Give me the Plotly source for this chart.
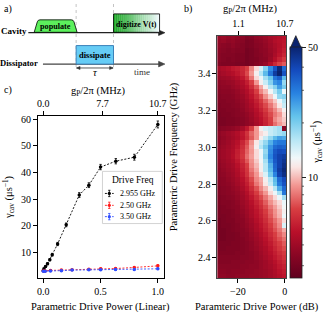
import math
import plotly.graph_objects as go

W, H = 330, 312
FONT = "Liberation Serif"

# ---------------- data: panel (c) ----------------
power_black = [0.0, 0.006, 0.02, 0.037, 0.057, 0.078, 0.125, 0.2, 0.314, 0.398, 0.5, 0.633, 0.795, 1.0]
gamma_black = [3.2, 3.8, 4.7, 5.7, 7.2, 9.1, 13.1, 20.3, 31.5, 35.2, 42.0, 44.2, 45.7, 58.0]
err_black = [0.3, 0.3, 0.3, 0.4, 0.4, 0.5, 0.6, 0.7, 0.9, 0.9, 1.0, 1.0, 1.1, 1.3]

power_rb = [0.0, 0.016, 0.063, 0.158, 0.251, 0.398, 0.501, 0.631, 0.794, 1.0]
gamma_red = [3.0, 3.0, 3.2, 3.3, 3.4, 3.6, 3.8, 3.9, 4.3, 4.9]
err_red = [0.2, 0.2, 0.2, 0.2, 0.2, 0.2, 0.3, 0.3, 0.3, 0.4]
gamma_blue = [2.9, 2.9, 3.0, 3.1, 3.3, 3.4, 3.4, 3.5, 3.5, 3.8]
err_blue = [0.2, 0.2, 0.2, 0.2, 0.2, 0.2, 0.2, 0.3, 0.3, 0.3]

legend_names = ["2.955 GHz", "2.50 GHz", "3.50 GHz"]
series_colors = ["#000000", "#ff1a1a", "#2f4dff"]

c_bottom_ticks = [0.0, 0.5, 1.0]
c_left_ticks = [10, 20, 30, 40, 50, 60]
c_top_gp_ticks = [0.0, 7.7, 10.7]      # g_P/2pi (MHz), g ~ sqrt(P)
gp_max = 10.7

# ---------------- data: panel (b) heat map ----------------
power_db = [-28, -26, -24, -22, -20, -18, -16, -14, -12, -10, -8, -6, -4, -2, 0]
freq_ghz = [3.600, 3.575, 3.550, 3.525, 3.500, 3.475, 3.450, 3.425, 3.400, 3.375,
            3.350, 3.325, 3.300, 3.275, 3.250, 3.225, 3.200, 3.175, 3.150, 3.125,
            3.100, 3.075, 3.050, 3.025, 3.000, 2.975, 2.950, 2.925, 2.900, 2.875,
            2.850, 2.825, 2.800, 2.775, 2.750, 2.725, 2.700, 2.675, 2.650, 2.625,
            2.600, 2.575, 2.550, 2.525, 2.500, 2.475, 2.450, 2.425, 2.400, 2.375,
            2.350, 2.325, 2.300]
gamma_map = [
    [3.8, 3.9, 3.7, 3.8, 3.6, 3.5, 3.2, 3.3, 3.6, 3.7, 3.9, 4.2, 4.4, 4.6, 4.8],
    [3.7, 3.8, 3.6, 3.7, 3.5, 3.4, 3.1, 3.2, 3.5, 3.6, 3.8, 4.1, 4.5, 4.7, 4.9],
    [3.6, 3.5, 3.4, 3.6, 3.4, 3.3, 3.1, 3.2, 3.4, 3.5, 3.7, 4.0, 4.3, 4.6, 5.0],
    [3.5, 3.4, 3.3, 3.4, 3.3, 3.3, 3.0, 3.1, 3.3, 3.5, 3.6, 3.9, 4.2, 4.7, 5.2],
    [3.4, 3.3, 3.3, 3.3, 3.2, 3.2, 3.0, 3.1, 3.3, 3.4, 3.6, 3.8, 4.3, 4.9, 5.5],
    [3.4, 3.3, 3.2, 3.3, 3.2, 3.2, 3.0, 3.1, 3.2, 3.4, 3.5, 3.9, 4.6, 5.4, 6.2],
    [3.3, 3.2, 3.2, 3.2, 3.1, 3.1, 3.0, 3.1, 3.3, 3.5, 3.8, 4.6, 5.6, 6.6, 7.2],
    [4.2, 4.4, 4.6, 5.0, 5.2, 5.6, 6.5, 8.5, 11, 14, 19, 27, 36, 48, 32],
    [4.0, 4.2, 4.4, 4.6, 5.0, 5.5, 6.8, 9.0, 12, 16, 22, 30, 42, 58, 36],
    [3.8, 3.9, 4.0, 4.2, 4.5, 5.0, 6.0, 8.0, 11, 13, 17, 21, 30, 34, 22],
    [3.6, 3.7, 3.8, 3.9, 4.2, 4.5, 5.2, 6.5, 9.0, 12, 15, 19, 26, 28, 18],
    [3.5, 3.6, 3.6, 3.8, 4.0, 4.3, 4.8, 5.8, 7.2, 9.5, 12, 16, 19, 25, 20],
    [3.4, 3.5, 3.5, 3.6, 3.8, 4.1, 4.5, 5.2, 6.5, 8.5, 10, 12.5, 16, 20, 13],
    [3.3, 3.4, 3.4, 3.5, 3.7, 3.9, 4.3, 4.9, 5.8, 7.0, 8.8, 10.5, 13, 18, 19],
    [3.3, 3.3, 3.4, 3.4, 3.6, 3.8, 4.1, 4.6, 5.3, 6.3, 7.5, 9.0, 10.5, 13, 16],
    [3.2, 3.3, 3.3, 3.4, 3.5, 3.7, 4.0, 4.4, 5.0, 5.8, 6.8, 8.0, 9.5, 11.5, 15],
    [3.2, 3.2, 3.3, 3.3, 3.4, 3.6, 3.9, 4.2, 4.7, 5.4, 6.3, 7.3, 8.5, 10, 12],
    [3.1, 3.2, 3.2, 3.3, 3.4, 3.5, 3.7, 4.0, 4.5, 5.0, 5.8, 6.8, 8.0, 9.0, 11],
    [3.1, 3.1, 3.2, 3.2, 3.3, 3.4, 3.6, 3.9, 4.3, 4.8, 5.5, 6.5, 8.5, 9.5, 10.5],
    [3.1, 3.1, 3.2, 3.2, 3.3, 3.4, 3.6, 3.8, 4.2, 4.7, 5.4, 6.4, 7.8, 9.0, 10],
    [3.3, 3.4, 3.5, 3.6, 3.8, 4.2, 5.0, 6.5, 9.0, 12, 14, 15, 16, 17, 3.5],
    [3.6, 3.8, 4.0, 4.2, 4.5, 5.0, 6.0, 7.5, 9.0, 11, 12, 15, 16, 17, 18],
    [3.5, 3.7, 3.9, 4.1, 4.4, 4.9, 5.8, 7.2, 9.0, 12, 15, 18, 22, 25, 24],
    [3.6, 3.8, 4.0, 4.3, 4.7, 5.5, 6.8, 8.8, 11.5, 15, 18, 23, 28, 30, 30],
    [3.7, 3.9, 4.1, 4.4, 4.9, 5.8, 7.2, 9.2, 12, 16, 20, 26, 32, 34, 33],
    [3.8, 4.0, 4.2, 4.5, 5.2, 6.0, 7.5, 9.0, 11, 13, 18, 27, 35, 38, 37],
    [3.8, 4.0, 4.2, 4.6, 5.3, 6.2, 7.8, 9.2, 11, 13, 19, 28, 36, 40, 42],
    [3.7, 3.9, 4.1, 4.4, 5.0, 5.8, 7.2, 8.8, 10.5, 12.5, 17, 26, 35, 40, 44],
    [3.6, 3.8, 4.0, 4.2, 4.7, 5.4, 6.5, 8.5, 10, 12, 16, 23, 33, 40, 46],
    [3.5, 3.7, 3.9, 4.1, 4.5, 5.2, 6.2, 8.0, 9.5, 12, 16, 22, 32, 42, 48],
    [3.5, 3.6, 3.8, 4.0, 4.4, 5.0, 6.0, 7.5, 9.0, 11, 14, 20, 28, 40, 46],
    [3.4, 3.5, 3.7, 3.9, 4.2, 4.7, 5.5, 6.8, 8.5, 9.5, 12, 16, 22, 32, 38],
    [3.4, 3.5, 3.6, 3.8, 4.1, 4.5, 5.2, 6.4, 8.0, 9.2, 11.5, 15, 21, 30, 36],
    [3.3, 3.4, 3.5, 3.7, 3.9, 4.3, 4.9, 5.8, 7.0, 8.5, 10, 12, 16, 24, 32],
    [3.3, 3.4, 3.5, 3.6, 3.8, 4.1, 4.6, 5.4, 6.4, 7.6, 9.0, 11, 13, 17, 30],
    [3.2, 3.3, 3.4, 3.5, 3.7, 4.0, 4.4, 5.0, 5.8, 6.8, 8.0, 9.5, 11, 13, 17],
    [3.2, 3.3, 3.3, 3.4, 3.6, 3.9, 4.2, 4.7, 5.4, 6.2, 7.3, 8.8, 10, 11, 13],
    [3.1, 3.2, 3.3, 3.4, 3.5, 3.8, 4.1, 4.5, 5.1, 5.8, 6.8, 8.0, 9.2, 10.5, 12.5],
    [3.1, 3.2, 3.2, 3.3, 3.5, 3.7, 4.0, 4.4, 4.9, 5.5, 6.4, 7.5, 8.8, 10, 12],
    [3.1, 3.1, 3.2, 3.3, 3.4, 3.6, 3.9, 4.3, 4.8, 5.3, 6.1, 7.2, 8.6, 9.8, 13],
    [3.0, 3.1, 3.2, 3.2, 3.4, 3.5, 3.8, 4.1, 4.6, 5.1, 5.8, 6.8, 7.8, 9.0, 11],
    [3.0, 3.1, 3.1, 3.2, 3.3, 3.5, 3.7, 4.0, 4.4, 4.9, 5.5, 6.4, 7.4, 8.6, 14],
    [3.0, 3.0, 3.1, 3.2, 3.3, 3.4, 3.6, 3.9, 4.3, 4.7, 5.3, 6.0, 7.0, 8.0, 9.5],
    [3.0, 3.0, 3.1, 3.1, 3.2, 3.4, 3.5, 3.8, 4.1, 4.5, 5.0, 5.7, 6.5, 7.5, 8.5],
    [3.0, 3.0, 3.1, 3.1, 3.2, 3.3, 3.5, 3.7, 4.0, 4.3, 4.8, 5.4, 6.2, 7.0, 7.8],
    [3.1, 3.1, 3.1, 3.2, 3.2, 3.3, 3.4, 3.6, 3.9, 4.2, 4.6, 5.1, 5.8, 6.5, 7.2],
    [3.1, 3.1, 3.2, 3.2, 3.2, 3.3, 3.4, 3.6, 3.8, 4.1, 4.4, 4.9, 5.5, 6.2, 6.8],
    [3.2, 3.2, 3.2, 3.2, 3.3, 3.3, 3.4, 3.5, 3.7, 4.0, 4.3, 4.7, 5.2, 5.8, 6.3],
    [3.3, 3.3, 3.3, 3.3, 3.3, 3.4, 3.4, 3.5, 3.7, 3.9, 4.2, 4.5, 5.0, 5.5, 6.0],
    [3.3, 3.3, 3.3, 3.4, 3.4, 3.4, 3.5, 3.5, 3.6, 3.8, 4.0, 4.3, 4.7, 5.2, 5.6],
    [3.4, 3.4, 3.4, 3.4, 3.4, 3.5, 3.5, 3.6, 3.6, 3.8, 4.0, 4.2, 4.5, 5.0, 5.3],
    [3.5, 3.5, 3.4, 3.5, 3.5, 3.5, 3.6, 3.6, 3.7, 3.8, 3.9, 4.1, 4.4, 4.8, 5.1],
    [3.6, 3.6, 3.5, 3.5, 3.6, 3.6, 3.6, 3.7, 3.7, 3.8, 3.9, 4.1, 4.3, 4.6, 4.9],
]
b_bottom_ticks = [-20, 0]
b_left_ticks = [2.4, 2.6, 2.8, 3.0, 3.2, 3.4]
b_top_gp_ticks = [1.1, 10.7]           # g ~ 10^(dB/20)
cb_vmin, cb_vcenter, cb_vmax = 2.53, 10.0, 50.0
cb_major = [10, 50]
cb_minor = [3, 4, 5, 6, 7, 8, 9, 20, 30, 40]

# ---------------- helpers (pixel -> paper) ----------------
def X(x):
    return x / W


def Y(y):
    return 1 - y / H


def label(x, y, s, size=10, xanchor="center", angle=0, color="black"):
    return dict(x=X(x), y=Y(y), xref="paper", yref="paper", text=s, showarrow=False,
                xanchor=xanchor, yanchor="middle", textangle=angle,
                font=dict(family=FONT, size=size, color=color))


# two-slope logarithmic colour norm (0..1), centre value at fixed fraction
CB_CENTER_FRAC = 0.4346


def norm(v):
    lv = math.log10(v)
    if v <= cb_vcenter:
        lo = math.log10(cb_vmin)
        return CB_CENTER_FRAC * (lv - lo) / (math.log10(cb_vcenter) - lo)
    hi = math.log10(cb_vmax)
    return CB_CENTER_FRAC + (1 - CB_CENTER_FRAC) * (lv - 1) / (hi - math.log10(cb_vcenter))


fig = go.Figure()

# ---------------- panel (b) heat map ----------------
cscale = [
    [0.00, "rgb(95,0,30)"], [0.10, "rgb(138,6,36)"], [0.20, "rgb(185,16,42)"],
    [0.30, "rgb(216,62,66)"], [0.40, "rgb(242,150,145)"], [0.48, "rgb(250,230,228)"],
    [0.52, "rgb(240,248,250)"], [0.60, "rgb(182,230,245)"], [0.70, "rgb(100,195,235)"],
    [0.80, "rgb(40,130,225)"], [0.90, "rgb(20,75,190)"], [1.00, "rgb(10,35,110)"],
]
znorm = [[norm(v) for v in row] for row in gamma_map]
CB_X0, CB_W, CB_BOTTOM, CB_LEN = 296, 12.3, 277.7, 231
fig.add_trace(go.Heatmap(
    z=znorm, x=power_db, y=freq_ghz, xaxis="x3", yaxis="y3",
    zmin=0, zmax=1, colorscale=cscale, hoverinfo="skip",
    colorbar=dict(
        x=X(CB_X0), xanchor="left", xref="paper", xpad=0, ypad=0,
        y=Y(CB_BOTTOM), yanchor="bottom", yref="paper", len=CB_LEN, lenmode="pixels",
        thickness=CB_W, thicknessmode="pixels", outlinewidth=0.8, outlinecolor="#222",
        tickvals=[norm(v) for v in cb_major], ticktext=[str(v) for v in cb_major],
        ticks="outside", ticklen=4, tickwidth=0.8, tickcolor="#222",
        tickfont=dict(family=FONT, size=10, color="black"),
    ),
))
fig.add_trace(go.Scatter(x=[None], y=[None], xaxis="x4", yaxis="y3", showlegend=False))

# ---------------- panel (c) series ----------------
for xs, ys, es, col in [(power_black, gamma_black, err_black, series_colors[0]),
                        (power_rb, gamma_red, err_red, series_colors[1]),
                        (power_rb, gamma_blue, err_blue, series_colors[2])]:
    fig.add_trace(go.Scatter(
        x=xs, y=ys, mode="lines+markers", xaxis="x", yaxis="y", showlegend=False,
        line=dict(color=col, width=0.9, dash="2px,1.6px"),
        marker=dict(color=col, size=3.5),
        error_y=dict(type="data", array=es, color=col, thickness=0.8, width=1.2),
        hoverinfo="skip"))
fig.add_trace(go.Scatter(x=[None], y=[None], xaxis="x2", yaxis="y", showlegend=False))

# ---------------- axes ----------------
ax = dict(showgrid=False, zeroline=False, ticks="outside", ticklen=4, tickwidth=0.8,
          tickcolor="black", showline=True, linecolor="black", linewidth=0.8,
          tickfont=dict(family=FONT, size=10, color="black"))
c_range = [-0.048, 1.05]
b_range = [-28.75, 0.67]
fig.update_layout(
    width=W, height=H, margin=dict(l=0, r=0, t=0, b=0),
    paper_bgcolor="white", plot_bgcolor="white", showlegend=False,
    xaxis=dict(domain=[X(37.7), X(166.6)], range=c_range, anchor="y", mirror=True,
               tickvals=c_bottom_ticks, ticktext=[f"{v:.1f}" for v in c_bottom_ticks], **ax),
    yaxis=dict(domain=[Y(277.7), Y(114.3)], range=[0.33, 61.1], anchor="x", mirror=True,
               tickvals=c_left_ticks, ticktext=[str(v) for v in c_left_ticks], **ax),
    xaxis2=dict(overlaying="x", side="top", anchor="y", range=c_range,
                tickvals=[(g / gp_max) ** 2 for g in c_top_gp_ticks],
                ticktext=[f"{g:.1f}" for g in c_top_gp_ticks],
                **{**ax, "showline": False}),
    xaxis3=dict(domain=[X(221.7), X(292.3)], range=b_range, anchor="y3", mirror=True,
                tickvals=b_bottom_ticks,
                ticktext=[("\u2212" + str(-v)) if v < 0 else str(v) for v in b_bottom_ticks],
                **{**ax, "linecolor": "#444"}),
    yaxis3=dict(domain=[Y(277.7), Y(33.3)], range=[2.29, 3.603], anchor="x3", mirror=True,
                tickvals=b_left_ticks, ticktext=[f"{v:.1f}" for v in b_left_ticks],
                **{**ax, "linecolor": "#444"}),
    xaxis4=dict(overlaying="x3", side="top", anchor="y3", range=b_range,
                tickvals=[20 * math.log10(g / gp_max) for g in b_top_gp_ticks],
                ticktext=[f"{g:.1f}" for g in b_top_gp_ticks],
                **{**ax, "showline": False}),
)

# ---------------- shapes ----------------
shapes = []


def path(points, close=True):
    s = "M " + " L ".join(f"{X(a):.5f},{Y(b):.5f}" for a, b in points)
    return s + (" Z" if close else "")


def seg(x0, y0, x1, y1, color="black", width=1.0, dash=None):
    ln = dict(color=color, width=width)
    if dash:
        ln["dash"] = dash
    return dict(type="line", xref="paper", yref="paper", x0=X(x0), x1=X(x1),
                y0=Y(y0), y1=Y(y1), line=ln)


# colorbar extension triangle and minor ticks
shapes.append(dict(type="path", xref="paper", yref="paper",
                   path=path([(CB_X0, 46.7), (CB_X0 + CB_W, 46.7), (CB_X0 + CB_W / 2, 33.0)]),
                   fillcolor="rgb(10,35,110)", line=dict(color="#222", width=0.8)))
for v in cb_minor:
    ty = CB_BOTTOM - CB_LEN * norm(v)
    shapes.append(seg(CB_X0 + CB_W, ty, CB_X0 + CB_W + 2.2, ty, "#222", 0.7))

# schematic: dotted guides
for gx in (77, 115.3):
    shapes.append(seg(gx, 1, gx, 67, "#c4c4c4", 1, "dot"))
# time axes with filled arrow heads
for (xt, yt, col) in [(28, 30, "#222"), (43, 61.7, "#444")]:
    shapes.append(seg(xt, yt, 163, yt, col, 1.2))
    shapes.append(dict(type="path", xref="paper", yref="paper",
                       path=path([(161.5, yt - 2.8), (168, yt), (161.5, yt + 2.8)]),
                       fillcolor=col, line=dict(color=col, width=0.6)))
# tau double arrow
shapes.append(seg(77.5, 65.6, 114.8, 65.6, "#333", 0.8))
shapes.append(dict(type="path", xref="paper", yref="paper",
                   path=path([(81, 64), (77.3, 65.6), (81, 67.2)]),
                   fillcolor="#333", line=dict(color="#333", width=0.5)))
shapes.append(dict(type="path", xref="paper", yref="paper",
                   path=path([(111.3, 64), (115, 65.6), (111.3, 67.2)]),
                   fillcolor="#333", line=dict(color="#333", width=0.5)))
# populate pulse
pop = (f"M {X(34):.5f},{Y(29.6):.5f} L {X(37.2):.5f},{Y(19):.5f} "
       f"Q {X(37.8):.5f},{Y(17):.5f} {X(40):.5f},{Y(17):.5f} L {X(72):.5f},{Y(17):.5f} "
       f"Q {X(74.2):.5f},{Y(17):.5f} {X(74.8):.5f},{Y(19):.5f} L {X(78):.5f},{Y(29.6):.5f} Z")
shapes.append(dict(type="path", xref="paper", yref="paper", path=pop,
                   fillcolor="rgb(92,240,92)", line=dict(color="black", width=0.8)))
# digitize box with green -> white gradient
n_strip = 24
x_a, x_b = 115.3, 162.5
for k in range(n_strip):
    t = k / (n_strip - 1)
    col = (int(30 + t * (240 - 30)), int(168 + t * (250 - 168)), int(40 + t * (252 - 40)))
    shapes.append(dict(type="rect", xref="paper", yref="paper",
                       x0=X(x_a + k * (x_b - x_a) / n_strip), x1=X(x_a + (k + 1) * (x_b - x_a) / n_strip + 0.3),
                       y0=Y(29.6), y1=Y(11), fillcolor=f"rgb{col}", line=dict(width=0)))
shapes.append(dict(type="rect", xref="paper", yref="paper", x0=X(x_a), x1=X(x_b),
                   y0=Y(29.6), y1=Y(11), line=dict(color="black", width=0.8)))
# dissipate box
shapes.append(dict(type="rect", xref="paper", yref="paper", x0=X(77), x1=X(115.3),
                   y0=Y(61.7), y1=Y(43), fillcolor="rgb(102,204,245)",
                   line=dict(color="rgb(60,130,185)", width=1)))

# manual legend for panel (c)
lx0, lx1, ly0, ly1 = 104, 165.3, 170, 222.7
shapes.append(dict(type="rect", xref="paper", yref="paper", x0=X(lx0), x1=X(lx1),
                   y0=Y(ly1), y1=Y(ly0), fillcolor="white", line=dict(color="#c8c8c8", width=0.8)))
entry_y = [192.3, 204.3, 215.7]
for ey, col in zip(entry_y, series_colors):
    shapes.append(seg(106.5, ey, 115.5, ey, col, 0.9, "2px,1.6px"))
    shapes.append(seg(111, ey - 3.2, 111, ey + 3.2, col, 0.8))
    for cy in (ey - 3.2, ey + 3.2):
        shapes.append(seg(109.8, cy, 112.2, cy, col, 0.8))
    shapes.append(dict(type="circle", xref="paper", yref="paper", x0=X(109.4), x1=X(112.6),
                       y0=Y(ey + 1.6), y1=Y(ey - 1.6), fillcolor=col, line=dict(width=0)))

fig.update_layout(shapes=shapes)

# ---------------- annotations ----------------
ann = []
ann.append(label(1, 6, "a)", 10, "left"))
ann.append(label(186, 6, "b)", 10, "left"))
ann.append(label(1, 88, "c)", 10, "left"))
ann.append(label(13.5, 28, "<b>Cavity</b>", 9))
ann.append(label(18.5, 60.5, "<b>Dissipator</b>", 8.6))
ann.append(label(56, 23.6, "<b>populate</b>", 8.2))
ann.append(label(139, 22.2, "<b>digitize V(t)</b>", 8))
ann.append(label(96.5, 52.6, "<b>dissipate</b>", 8.5))
ann.append(label(96.5, 70.5, "<i>\u03c4</i>", 10.5))
ann.append(label(145, 69.8, "time", 9, color="#333"))
# axis titles
ann.append(label(102, 306.5, "Parametric Drive Power (Linear)", 10.5))
ann.append(label(100, 89, "g<sub>P</sub>/2\u03c0 (MHz)", 10.5))
ann.append(label(8, 196, "\u03b3<sub>cav</sub> (\u03bcs<sup>\u22121</sup>)", 10.5, angle=-90))
ann.append(label(262, 306.5, "Paramteric Drive Power (dB)", 10.5))
ann.append(label(256, 7, "g<sub>P</sub>/2\u03c0 (MHz)", 10.5))
ann.append(label(177, 155, "Parametric Drive Frequency (GHz)", 10.5, angle=-90))
ann.append(label(323, 140, "\u03b3<sub>cav</sub> (\u03bcs<sup>\u22121</sup>)", 10.5, angle=-90))
# legend texts
ann.append(label(135, 178.5, "Drive Freq", 9.5))
for ey, name in zip(entry_y, legend_names):
    ann.append(label(120, ey, name, 8, "left"))
fig.update_layout(annotations=ann)

fig.write_html("out.html", config={"displayModeBar": False},
               post_script="document.body.style.margin='0';document.body.style.padding='0';"
                           "document.body.style.overflow='hidden';")
